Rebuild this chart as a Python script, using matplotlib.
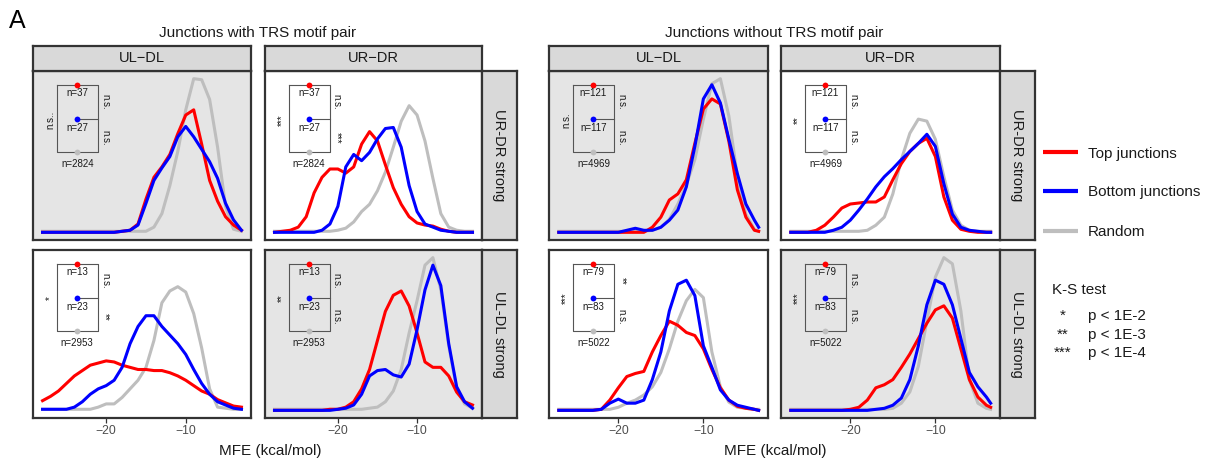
import matplotlib.pyplot as plt
import numpy as np

plt.rcParams['font.family'] = ['Liberation Sans', 'DejaVu Sans']

RED = '#FF0000'
BLUE = '#0000FF'
GREY = '#BEBEBE'
DARK = '#333333'

# MFE grids the densities are evaluated on (kcal/mol)
mfe_trs = np.arange(-28, -2)
mfe_notrs = np.array(list(range(-27, -3)) + [-3.5])

# ---- junctions with TRS motif pair ----
# row "UR-DR strong", column "UL-DL"
trs_ur_ul_top = [0, 0, 0, 0, 0, 0, 0, 0, 0, 0, 0.001, 0.002, 0.008, 0.032, 0.053, 0.063,
                 0.075, 0.095, 0.113, 0.118, 0.085, 0.050, 0.030, 0.015, 0.007, 0.002]
trs_ur_ul_bot = [0, 0, 0, 0, 0, 0, 0, 0, 0, 0, 0.001, 0.002, 0.007, 0.028, 0.050, 0.062,
                 0.073, 0.092, 0.102, 0.092, 0.080, 0.068, 0.052, 0.028, 0.012, 0.002]
trs_ur_ul_rnd = [0.001] * 14 + [0.005, 0.018, 0.045, 0.078, 0.118, 0.148, 0.147, 0.128,
                                0.082, 0.025, 0.003, 0.001]
# row "UR-DR strong", column "UR-DR"
trs_ur_ur_top = [0, 0.001, 0.002, 0.005, 0.015, 0.038, 0.053, 0.061, 0.061, 0.057, 0.063,
                 0.085, 0.097, 0.088, 0.065, 0.043, 0.027, 0.015, 0.009, 0.007, 0.006,
                 0.003, 0.001, 0, 0, 0]
trs_ur_ur_bot = [0, 0, 0, 0, 0, 0, 0.002, 0.008, 0.025, 0.063, 0.075, 0.069, 0.077, 0.090,
                 0.100, 0.101, 0.082, 0.045, 0.020, 0.008, 0.005, 0.002, 0.001, 0, 0, 0]
trs_ur_ur_rnd = [0.001] * 8 + [0.002, 0.004, 0.010, 0.020, 0.027, 0.040, 0.058, 0.082,
                               0.107, 0.122, 0.113, 0.088, 0.052, 0.018, 0.005, 0.002,
                               0.001, 0.001]
# row "UL-DL strong", column "UL-DL"
trs_ul_ul_top = [0.009, 0.013, 0.018, 0.025, 0.032, 0.037, 0.042, 0.044, 0.046, 0.045,
                 0.042, 0.040, 0.038, 0.038, 0.037, 0.037, 0.035, 0.032, 0.028, 0.023,
                 0.018, 0.015, 0.010, 0.007, 0.004, 0.003]
trs_ul_ul_bot = [0.001, 0.001, 0.001, 0.001, 0.003, 0.008, 0.015, 0.020, 0.023, 0.028,
                 0.040, 0.062, 0.078, 0.088, 0.088, 0.078, 0.070, 0.062, 0.052, 0.038,
                 0.025, 0.015, 0.008, 0.005, 0.002, 0.001]
trs_ul_ul_rnd = [0.001] * 7 + [0.003, 0.006, 0.006, 0.012, 0.020, 0.028, 0.040, 0.065,
                               0.100, 0.111, 0.115, 0.110, 0.090, 0.058, 0.020, 0.003,
                               0.002, 0.001, 0.001]
# row "UL-DL strong", column "UR-DR"
trs_ul_ur_top = [0] * 7 + [0.001, 0.001, 0.003, 0.008, 0.020, 0.038, 0.065, 0.092, 0.107,
                           0.111, 0.097, 0.072, 0.045, 0.040, 0.040, 0.032, 0.017, 0.008,
                           0.005]
trs_ul_ur_bot = [0] * 8 + [0.001, 0.002, 0.005, 0.015, 0.032, 0.037, 0.038, 0.033, 0.031,
                           0.043, 0.075, 0.112, 0.135, 0.116, 0.062, 0.022, 0.008, 0.002]
trs_ul_ur_rnd = [0.001] * 12 + [0.002, 0.003, 0.008, 0.018, 0.038, 0.072, 0.102, 0.135,
                                0.142, 0.112, 0.060, 0.020, 0.006, 0.002]

# ---- junctions without TRS motif pair ----
notrs_ur_ul_top = [0] * 11 + [0.005, 0.015, 0.032, 0.038, 0.052, 0.088, 0.122, 0.132,
                              0.127, 0.090, 0.042, 0.015, 0.002, 0.001]
notrs_ur_ul_bot = [0] * 8 + [0.002, 0.004, 0.002, 0.002, 0.005, 0.012, 0.022, 0.045, 0.085,
                             0.132, 0.146, 0.128, 0.092, 0.058, 0.028, 0.012, 0.005]
notrs_ur_ul_rnd = [0.001] * 11 + [0.002, 0.005, 0.013, 0.028, 0.047, 0.072, 0.112, 0.147,
                                  0.152, 0.115, 0.055, 0.018, 0.003, 0.001]
notrs_ur_ur_top = [0, 0, 0, 0.002, 0.007, 0.015, 0.024, 0.028, 0.029, 0.030, 0.030, 0.035,
                   0.052, 0.068, 0.080, 0.088, 0.093, 0.075, 0.035, 0.012, 0.003, 0.001,
                   0, 0, 0]
notrs_ur_ur_bot = [0] * 5 + [0.002, 0.005, 0.012, 0.022, 0.033, 0.045, 0.055, 0.063, 0.072,
                             0.080, 0.088, 0.097, 0.085, 0.048, 0.018, 0.005, 0.002, 0.001,
                             0, 0]
notrs_ur_ur_rnd = [0.001] * 9 + [0.002, 0.007, 0.015, 0.038, 0.072, 0.098, 0.112, 0.110,
                                 0.092, 0.055, 0.022, 0.007, 0.002, 0.001, 0.001, 0.001]
notrs_ul_ul_top = [0] * 5 + [0.001, 0.010, 0.022, 0.033, 0.036, 0.038, 0.057, 0.073, 0.087,
                             0.083, 0.076, 0.073, 0.060, 0.040, 0.022, 0.010, 0.004, 0.002,
                             0.001, 0]
notrs_ul_ul_bot = [0] * 5 + [0.001, 0.007, 0.011, 0.007, 0.007, 0.010, 0.030, 0.057, 0.097,
                             0.123, 0.127, 0.112, 0.063, 0.042, 0.020, 0.010, 0.005, 0.003,
                             0.001, 0]
notrs_ul_ul_rnd = [0.001] * 7 + [0.003, 0.007, 0.010, 0.015, 0.023, 0.037, 0.060, 0.087,
                                 0.107, 0.118, 0.110, 0.057, 0.023, 0.008, 0.003, 0.002,
                                 0.001, 0.001]
notrs_ul_ur_top = [0] * 7 + [0.001, 0.003, 0.010, 0.022, 0.025, 0.030, 0.042, 0.055, 0.070,
                             0.085, 0.098, 0.102, 0.090, 0.060, 0.030, 0.013, 0.005, 0.003]
notrs_ul_ur_bot = [0] * 10 + [0.001, 0.002, 0.005, 0.012, 0.030, 0.063, 0.103, 0.127,
                              0.123, 0.103, 0.070, 0.037, 0.023, 0.013, 0.007]
notrs_ul_ur_rnd = [0.001] * 12 + [0.002, 0.007, 0.018, 0.043, 0.087, 0.130, 0.149, 0.143,
                                  0.097, 0.030, 0.007, 0.002, 0.001]

# junction counts (top, bottom, random) per row
trs_n_ur = ('37', '27', '2824')
trs_n_ul = ('13', '23', '2953')
notrs_n_ur = ('121', '117', '4969')
notrs_n_ul = ('79', '83', '5022')

# K-S labels: top vs random, top vs bottom, bottom vs random
trs_sig = {('ur', 'ul'): ('n.s..', 'n.s.', 'n.s.'), ('ur', 'ur'): ('***', 'n.s.', '***'),
           ('ul', 'ul'): ('*', 'n.s.', '**'), ('ul', 'ur'): ('**', 'n.s.', 'n.s.')}
notrs_sig = {('ur', 'ul'): ('n.s.', 'n.s.', 'n.s.'), ('ur', 'ur'): ('**', 'n.s.', 'n.s.'),
             ('ul', 'ul'): ('***', '**', 'n.s.'), ('ul', 'ur'): ('***', 'n.s.', 'n.s.')}

col_names = ['UL\u2212DL', 'UR\u2212DR']
row_names = ['UR-DR strong', 'UL-DL strong']

W, H = 1208, 461
fig = plt.figure(figsize=(W / 100, H / 100), dpi=100)


def px_axes(x0, y0, x1, y1):
    return fig.add_axes([x0 / W, 1 - y1 / H, (x1 - x0) / W, (y1 - y0) / H])


def frame(ax):
    for s in ax.spines.values():
        s.set_color(DARK)
        s.set_linewidth(1.6)


def inset(ax, counts, sigs):
    tr = ax.transAxes
    bx0, bx1, dx = 0.109, 0.298, 0.203
    ty, my, by = 0.917, 0.714, 0.519
    kw = dict(color='#555555', lw=0.8, transform=tr, clip_on=False)
    ax.plot([bx0, bx1, bx1, bx0, bx0], [ty, ty, by, by, ty], **kw)
    ax.plot([dx, bx1], [my, my], **kw)
    for y, c in zip([ty, my, by], [RED, BLUE, GREY]):
        ax.plot(dx, y, 'o', color=c, ms=4.2, mec='none', transform=tr, clip_on=False)
    for y, n in zip([0.872, 0.661, 0.448], counts):
        ax.text(dx, y, 'n=' + n, fontsize=7, color='#1A1A1A', ha='center', va='center',
                transform=tr)
    ax.text(0.078, 0.711, sigs[0], fontsize=7, rotation=90, ha='center', va='center',
            color='#1A1A1A', transform=tr)
    ax.text(0.330, 0.818, sigs[1], fontsize=7, rotation=270, ha='center', va='center',
            color='#1A1A1A', transform=tr)
    ax.text(0.330, 0.604, sigs[2], fontsize=7, rotation=270, ha='center', va='center',
            color='#1A1A1A', transform=tr)


def block(cols, mfe, xlim, curves, counts, sigs):
    rows_y = [(71, 240), (250, 418)]
    for r, rk in enumerate(['ur', 'ul']):
        ymax = max(max(v) for ck in ['ul', 'ur'] for v in curves[(rk, ck)])
        y0, y1 = rows_y[r]
        for c, ck in enumerate(['ul', 'ur']):
            x0, x1 = cols[c]
            ax = px_axes(x0, y0, x1, y1)
            grey_bg = (r + c) % 2 == 0
            ax.set_facecolor('#E5E5E5' if grey_bg else 'white')
            top, bot, rnd = curves[(rk, ck)]
            for vals, col in [(rnd, GREY), (top, RED), (bot, BLUE)]:
                ax.plot(mfe, vals, color=col, lw=2.2, solid_joinstyle='round')
            ax.set_xlim(xlim)
            ax.set_ylim(-0.05 * ymax, 1.05 * ymax)
            ax.set_yticks([])
            if r == 1:
                ax.set_xticks([-20, -10])
                ax.tick_params(axis='x', length=3.3, width=0.9, color=DARK, pad=2,
                               labelsize=8.8, labelcolor='#4D4D4D')
            else:
                ax.set_xticks([])
            frame(ax)
            inset(ax, counts[r], sigs[(rk, ck)])
            if r == 0:
                st = px_axes(x0, 46, x1, 71)
                st.set_facecolor('#D9D9D9')
                st.set_xticks([])
                st.set_yticks([])
                frame(st)
                st.text(0.5, 0.5, col_names[c], fontsize=10.5, color='#1A1A1A',
                        ha='center', va='center', transform=st.transAxes)
        xr = cols[1][1]
        st = px_axes(xr, y0, xr + 35, y1)
        st.set_facecolor('#D9D9D9')
        st.set_xticks([])
        st.set_yticks([])
        frame(st)
        st.text(0.5, 0.5, row_names[r], fontsize=10.5, color='#1A1A1A', rotation=270,
                ha='center', va='center', transform=st.transAxes)


block([(33, 251), (265, 482)], mfe_trs, (-29.2, -1.8),
      {('ur', 'ul'): (trs_ur_ul_top, trs_ur_ul_bot, trs_ur_ul_rnd),
       ('ur', 'ur'): (trs_ur_ur_top, trs_ur_ur_bot, trs_ur_ur_rnd),
       ('ul', 'ul'): (trs_ul_ul_top, trs_ul_ul_bot, trs_ul_ul_rnd),
       ('ul', 'ur'): (trs_ul_ur_top, trs_ul_ur_bot, trs_ul_ur_rnd)},
      [trs_n_ur, trs_n_ul], trs_sig)

block([(549, 768), (781, 1000)], mfe_notrs, (-28.15, -2.4),
      {('ur', 'ul'): (notrs_ur_ul_top, notrs_ur_ul_bot, notrs_ur_ul_rnd),
       ('ur', 'ur'): (notrs_ur_ur_top, notrs_ur_ur_bot, notrs_ur_ur_rnd),
       ('ul', 'ul'): (notrs_ul_ul_top, notrs_ul_ul_bot, notrs_ul_ul_rnd),
       ('ul', 'ur'): (notrs_ul_ur_top, notrs_ul_ur_bot, notrs_ul_ur_rnd)},
      [notrs_n_ur, notrs_n_ul], notrs_sig)

# figure-level labels, legend and K-S key in pixel coordinates
ann = fig.add_axes([0, 0, 1, 1], zorder=-1)
ann.set_xlim(0, W)
ann.set_ylim(H, 0)
ann.axis('off')

ann.text(9, 28.5, 'A', fontsize=18, ha='left', va='baseline')
ann.text(258, 36.5, 'Junctions with TRS motif pair', fontsize=11, color='#1A1A1A',
         ha='center', va='baseline')
ann.text(774, 36.5, 'Junctions without TRS motif pair', fontsize=11, color='#1A1A1A',
         ha='center', va='baseline')
ann.text(270, 454.5, 'MFE (kcal/mol)', fontsize=11, color='#1A1A1A', ha='center',
         va='baseline')
ann.text(775, 454.5, 'MFE (kcal/mol)', fontsize=11, color='#1A1A1A', ha='center',
         va='baseline')

legend_items = ['Top junctions', 'Bottom junctions', 'Random']
for label, col, y in zip(legend_items, [RED, BLUE, GREY], [152.5, 191, 230.5]):
    ann.plot([1043, 1078], [y, y], color=col, lw=3, solid_capstyle='butt')
    ann.text(1088, y + 5.3, label, fontsize=11, color='#1A1A1A', ha='left', va='baseline')

ks_stars = ['*', '**', '***']
ks_levels = ['p < 1E-2', 'p < 1E-3', 'p < 1E-4']
ann.text(1051.5, 294, 'K-S test', fontsize=11, color='#1A1A1A', ha='left', va='baseline')
for s, p, y in zip(ks_stars, ks_levels, [320, 338.5, 357]):
    ann.text(1063, y, s, fontsize=11, color='#1A1A1A', ha='center', va='baseline')
    ann.text(1088, y, p, fontsize=11, color='#1A1A1A', ha='left', va='baseline')

fig.savefig('out.png', dpi=100)
